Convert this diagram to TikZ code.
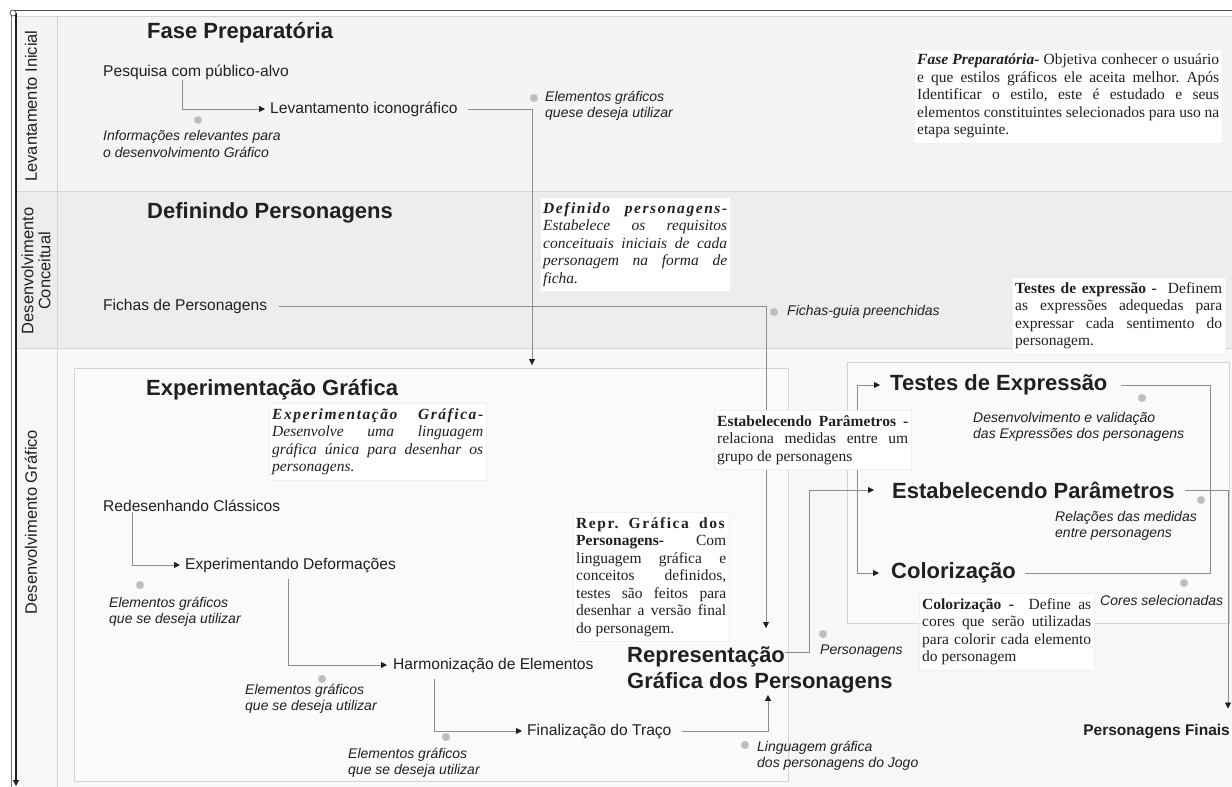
\documentclass[tikz,border=0pt]{standalone}
\usepackage{fontspec}
\setmainfont{Liberation Serif}
\setsansfont{Liberation Sans}
\usetikzlibrary{arrows.meta}
\frenchspacing

\definecolor{ink}{HTML}{231F20}
\definecolor{wire}{HTML}{8C8C8C}
\definecolor{laneA}{HTML}{F4F4F4}
\definecolor{laneB}{HTML}{EDEDEF}
\definecolor{laneC}{HTML}{F6F7F7}
\definecolor{panelfill}{HTML}{F9FAFA}
\definecolor{sepline}{HTML}{D4D4D4}
\definecolor{dotgray}{HTML}{BDBDBD}

\newcommand{\spaced}[1]{{\addfontfeature{LetterSpace=10}#1}}

\tikzset{
  head/.style={font=\sffamily\bfseries\fontsize{22}{26}\selectfont,text=ink,inner sep=0pt,anchor=west,align=left},
  stepbox/.style={font=\sffamily\fontsize{15.6}{18}\selectfont,text=ink,inner sep=0pt,anchor=west},
  hint/.style={font=\sffamily\itshape\fontsize{14}{16.5}\selectfont,text=ink,inner sep=0pt,anchor=west,align=left},
  lane/.style={font=\sffamily\fontsize{16.5}{17}\selectfont,text=ink,inner sep=0pt,rotate=90,align=center},
  note/.style={fill=white,draw=black!6,font=\rmfamily\fontsize{15.5}{17.5}\selectfont,text=ink,align=justify,inner xsep=3pt,inner ysep=5pt,anchor=north west},
  panel/.style={draw=sepline,fill=panelfill,line width=0.8pt,inner sep=0pt,anchor=north west},
  bullet/.style={circle,fill=dotgray,draw=dotgray!60!white,minimum size=8pt,inner sep=0pt},
  flow/.style={draw=wire,line width=0.9pt,-{Triangle[length=6pt,width=6pt,color=ink]},shorten >=6pt},
  link/.style={draw=wire,line width=0.9pt}
}

\begin{document}
\begin{tikzpicture}[x=1pt,y=-1pt]
\useasboundingbox (0,0) rectangle (1232,787);
\fill[laneA] (16,16) rectangle (1232,191);
\fill[laneB] (16,191) rectangle (1232,348);
\fill[laneC] (16,348) rectangle (1232,787);
\draw[sepline] (16,16) -- (1232,16) (16,191) -- (1232,191) (16,348) -- (1232,348) (57,16) -- (57,787);
\draw[black!70,line width=0.8pt] (13,10) -- (1232,10);
\draw[black!55,line width=0.6pt] (11.5,13) -- (11.5,787);
\draw[ink,line width=1.1pt,-{Triangle[length=6pt,width=6pt]}] (16,13) -- (16,786);
\draw[black!70,fill=white,line width=0.7pt] (13,13) circle (3pt);

\node[lane] (levlane) at (31,106) {Levantamento Inicial};
\node[lane] (conlane) at (36,271) {Desenvolvimento\\Conceitual};
\node[lane] (grflane) at (31,522) {Desenvolvimento Gráfico};

\node[panel,minimum width=714pt,minimum height=413pt] (expbox) at (74,368) {};
\node[panel,minimum width=382pt,minimum height=261pt] (colbox) at (847,362) {};

\node[head] (fase) at (147,33) {Fase Preparatória};
\node[stepbox] (pesq) at (103,72) {Pesquisa com público-alvo};
\node[stepbox] (levic) at (270,109) {Levantamento iconográfico};
\node[bullet] (d1) at (198,120) {};
\node[hint] (h1) at (103,144) {Informações relevantes para\\o desenvolvimento Gráfico};
\node[bullet] (d2) at (534,98) {};
\node[hint] (h2) at (545,106) {Elementos gráficos\\quese deseja utilizar};

\node[head] (defp) at (147,213) {Definindo Personagens};
\node[stepbox] (fichas) at (103,306) {Fichas de Personagens};
\node[bullet] (d3) at (774,312) {};
\node[hint] (h3) at (787,312) {Fichas-guia preenchidas};

\node[head] (expg) at (146,390) {Experimentação Gráfica};
\node[stepbox] (redes) at (103,506) {Redesenhando Clássicos};
\node[stepbox] (exdef) at (185,565) {Experimentando Deformações};
\node[bullet] (d4) at (140,585) {};
\node[hint] (h4) at (109,612) {Elementos gráficos\\que se deseja utilizar};
\node[stepbox] (harm) at (393,665) {Harmonização de Elementos};
\node[bullet] (d5) at (322,679) {};
\node[hint] (h5) at (245,699) {Elementos gráficos\\que se deseja utilizar};
\node[stepbox] (fin) at (527,731) {Finalização do Traço};
\node[bullet] (d6) at (446,737) {};
\node[hint] (h6) at (348,763) {Elementos gráficos\\que se deseja utilizar};
\node[bullet] (d7) at (745,745) {};
\node[hint] (h7) at (757,756) {Linguagem gráfica\\dos personagens do Jogo};
\node[head,anchor=north west] (repr) at (627,646) {Representação\\Gráfica dos Personagens};
\node[bullet] (d8) at (823,634) {};
\node[hint] (h8) at (820,651) {Personagens};

\node[head] (testes) at (890,385) {Testes de Expressão};
\node[bullet] (d9) at (1142,398) {};
\node[hint] (h9) at (973,427) {Desenvolvimento e validação\\das Expressões dos personagens};
\node[head] (estab) at (892,490) {Estabelecendo Parâmetros};
\node[bullet] (d10) at (1201,500) {};
\node[hint] (h10) at (1055,526) {Relações das medidas\\entre personagens};
\node[head] (color) at (891,573) {Colorização};
\node[bullet] (d11) at (1184,583) {};
\node[hint] (h11) at (1100,600) {Cores selecionadas};
\node[stepbox,font=\sffamily\bfseries\fontsize{15.5}{18}\selectfont,anchor=east] (final) at (1230,732) {Personagens Finais};
\coordinate (loopR) at (1210,480);

\draw[flow,shorten >=5pt] ([xshift=79pt]pesq.south west) |- (levic.west);
\draw[flow,shorten >=3pt] ([xshift=10pt]levic.east) -| ([xshift=458pt]expbox.north west);
\draw[flow,shorten >=18pt] ([xshift=12pt]fichas.east) -| ([xshift=139pt]repr.north west);
\draw[flow,shorten >=5pt] ([xshift=29pt]redes.south west) |- (exdef.west);
\draw[flow,shorten >=6pt] ([xshift=103pt,yshift=-6pt]exdef.south west) |- (harm.west);
\draw[flow,shorten >=5pt] ([xshift=41pt,yshift=-6pt]harm.south west) |- (fin.west);
\draw[flow,shorten >=2pt] ([xshift=10pt]fin.east) -| ([xshift=141pt]repr.south west);
\draw[flow,shorten >=18pt] ([xshift=158pt,yshift=-6pt]repr.north west) -- ++(24,0) |- (estab.west);
\draw[flow,shorten >=10pt] ([xshift=-35pt]estab.west) |- (testes.west);
\draw[flow,shorten >=12pt] ([xshift=-35pt]estab.west) |- (color.west);
\draw[link] ([xshift=13pt]testes.east) -| (loopR) |- ([xshift=9pt]color.east);
\draw[flow,shorten >=16pt] ([xshift=10pt]estab.east) -| ([xshift=-2pt]final.north east);

\node[note,text width=302pt] (n1) at (914,49) {\textbf{\textit{Fase Preparatória-}} Objetiva conhecer o usuário\linebreak e que estilos gráficos ele aceita melhor. Após\linebreak Identificar o estilo, este é estudado e seus\linebreak elementos constituintes selecionados para uso na\linebreak etapa seguinte.};
\node[note,text width=184pt] (n2) at (540,197) {\textbf{\textit{\spaced{Definido personagens-}}}\linebreak \textit{Estabelece os requisitos\linebreak conceituais iniciais de cada\linebreak personagem na forma de\linebreak ficha.}};
\node[note,text width=207pt] (n3) at (1012,277) {\textbf{Testes de expressão -} \ Definem\linebreak as expressões adequedas para\linebreak expressar cada sentimento do\linebreak personagem.};
\node[note,text width=211pt] (n4) at (269,403) {\textbf{\textit{\spaced{Experimentação Gráfica-}}}\linebreak \textit{Desenvolve uma linguagem\linebreak gráfica única para desenhar os\linebreak personagens.}};
\node[note,text width=150pt] (n5) at (573,512) {\textbf{\spaced{Repr. Gráfica dos}}\linebreak \textbf{Personagens-} Com\linebreak linguagem gráfica e\linebreak conceitos definidos,\linebreak testes são feitos para\linebreak desenhar a versão final\linebreak do personagem.};
\node[note,text width=191pt] (n6) at (714,410) {\textbf{Estabelecendo Parâmetros -}\linebreak relaciona medidas entre um\linebreak grupo de personagens};
\node[note,text width=169pt] (n7) at (919,593) {\textbf{Colorização -} \ Define as\linebreak cores que serão utilizadas\linebreak para colorir cada elemento\linebreak do personagem};
\end{tikzpicture}
\end{document}
